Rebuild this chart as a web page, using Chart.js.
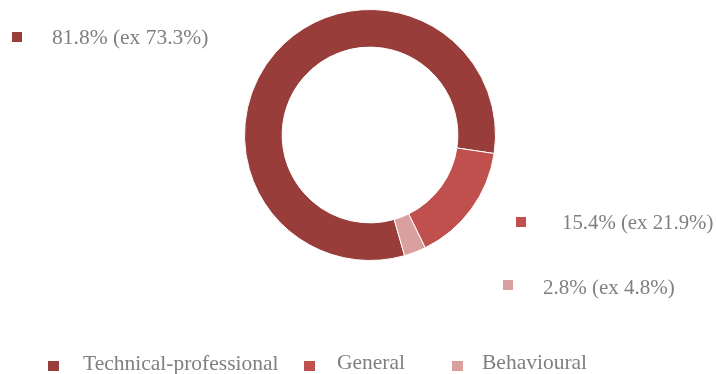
<!DOCTYPE html>
<html>
<head>
<meta charset="utf-8">
<script src="https://cdn.jsdelivr.net/npm/chart.js@4.4.0/dist/chart.umd.min.js"></script>
<style>
  html, body { margin: 0; padding: 0; background: #ffffff; }
  #wrap { position: relative; width: 716px; height: 374px; }
</style>
</head>
<body>
<div id="wrap"><canvas id="skillsChart" width="716" height="374"></canvas></div>
<script>
// Share of training by skill type, current year vs previous year
const categories = ['Technical-professional', 'General', 'Behavioural'];
const shares = [81.8, 15.4, 2.8];
const previousShares = [73.3, 21.9, 4.8];
const colors = ['#983d3a', '#c0504d', '#d9a09f'];

const textColor = '#7f7f7f';
const fontFamily = '"Liberation Serif", "Times New Roman", serif';

// Where each value label sits (marker box + text start + font size)
const labelSpots = [
  { box: [12, 32, 10, 10], text: [52, 43.5], size: 21.5 },
  { box: [516, 217, 10, 10], text: [562, 228.5], size: 20.8 },
  { box: [503, 280, 10, 10], text: [543, 293.5], size: 21 }
];

// Bottom legend positions
const legendSpots = [
  { box: [48, 361, 11, 10], text: [83, 370] },
  { box: [304, 361, 11, 10], text: [337, 369] },
  { box: [452, 361, 11, 10], text: [482, 369] }
];

function pct(v) {
  return v.toFixed(1) + '%';
}

// Draws value labels and legend as plain canvas text
const labelsPlugin = {
  id: 'sideLabels',
  afterDraw(chart) {
    const ctx = chart.ctx;
    ctx.save();
    ctx.textBaseline = 'alphabetic';
    ctx.textAlign = 'left';

    labelSpots.forEach((spot, i) => {
      ctx.fillStyle = colors[i];
      ctx.fillRect(...spot.box);
      ctx.font = spot.size + 'px ' + fontFamily;
      ctx.fillStyle = textColor;
      ctx.fillText(pct(shares[i]) + ' (ex ' + pct(previousShares[i]) + ')', spot.text[0], spot.text[1]);
    });

    ctx.font = '21.5px ' + fontFamily;
    legendSpots.forEach((spot, i) => {
      ctx.fillStyle = colors[i];
      ctx.fillRect(...spot.box);
      ctx.fillStyle = textColor;
      ctx.fillText(categories[i], spot.text[0], spot.text[1]);
    });
    ctx.restore();
  }
};

const ctx = document.getElementById('skillsChart').getContext('2d');
new Chart(ctx, {
  type: 'doughnut',
  data: {
    labels: categories,
    datasets: [{
      data: shares,
      backgroundColor: colors,
      borderColor: '#ffffff',
      borderWidth: 1
    }]
  },
  options: {
    responsive: false,
    animation: false,
    cutout: '70%',
    rotation: 164,
    layout: {
      padding: { left: 244, right: 220, top: 9, bottom: 113 }
    },
    plugins: {
      legend: { display: false },
      tooltip: { enabled: false }
    }
  },
  plugins: [labelsPlugin]
});
</script>
</body>
</html>
